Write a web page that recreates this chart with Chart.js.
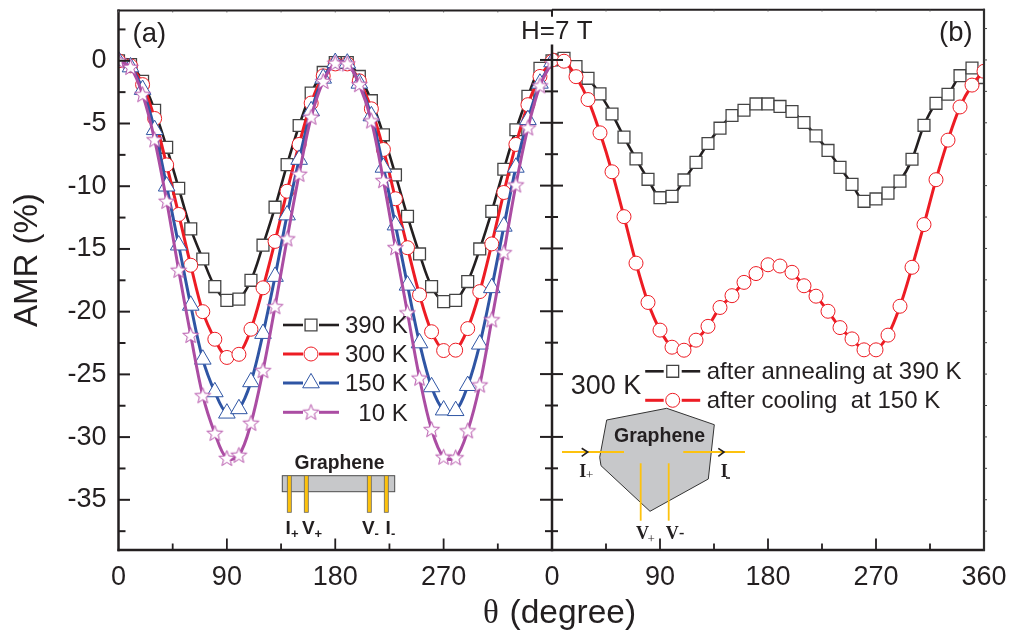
<!DOCTYPE html>
<html>
<head>
<meta charset="utf-8">
<style>
html,body{margin:0;padding:0;background:#fff;width:1009px;height:634px;overflow:hidden}
canvas{position:absolute;left:0;top:0}
</style>
<script src="https://cdn.jsdelivr.net/npm/chart.js@4/dist/chart.umd.js"></script>
</head>
<body>
<canvas id="panelA" width="1009" height="634"></canvas>
<canvas id="panelB" width="1009" height="634"></canvas>
<script>
const angles = [0,10,20,30,40,50,60,70,80,90,100,110,120,130,140,150,160,170,180,190,200,210,220,230,240,250,260,270,280,290,300,310,320,330,340,350,360];

const amr390 = [0,-0.3,-1.64,-3.95,-6.9,-10.16,-13.4,-15.8,-18.0,-19.1,-19.0,-17.5,-14.7,-11.67,-8.28,-5.16,-2.57,-0.93,-0.14,-0.14,-1.25,-3.18,-5.9,-9.1,-12.4,-15.4,-18.0,-19.2,-19.1,-17.6,-15.0,-12.0,-8.65,-5.5,-2.84,-0.6,0];
const amr300 = [0,-0.4,-1.9,-4.6,-8.3,-12.25,-16.3,-20.0,-22.2,-23.65,-23.4,-21.4,-18.1,-14.4,-10.4,-6.67,-3.37,-1.2,-0.25,-0.25,-1.6,-3.83,-7.07,-11.0,-14.9,-18.66,-21.6,-23.1,-23.07,-21.35,-18.4,-14.6,-10.5,-6.67,-3.5,-1.25,-0.05];
const amr150 = [0,-0.5,-2.3,-5.5,-10.0,-14.7,-19.5,-23.8,-26.4,-28.1,-27.75,-25.6,-21.75,-17.2,-12.3,-7.87,-4.0,-1.4,-0.15,-0.2,-1.8,-4.4,-8.5,-13.1,-17.9,-22.5,-26.0,-27.85,-27.9,-25.9,-22.6,-18.1,-13.2,-8.5,-4.7,-1.8,-0.1];
const amr10  = [0,-0.53,-2.7,-6.3,-11.2,-16.7,-21.9,-26.7,-29.7,-31.7,-31.45,-28.9,-24.7,-19.6,-14.2,-9.05,-4.5,-1.65,-0.2,-0.25,-1.9,-4.8,-9.55,-14.9,-20.1,-25.3,-29.4,-31.6,-31.65,-29.5,-25.85,-20.65,-15.3,-9.9,-5.35,-2.0,-0.1];

const annealed = [0,0.13,-0.53,-1.46,-2.7,-4.3,-6.14,-7.87,-9.5,-10.96,-10.85,-9.55,-8.15,-6.65,-5.43,-4.42,-4.0,-3.5,-3.5,-3.7,-4.1,-4.98,-6.04,-7.2,-8.55,-9.9,-11.25,-11.06,-10.6,-9.64,-7.9,-5.2,-3.45,-2.73,-1.25,-0.64,-1.4];
const cooled   = [0,-0.1,-1.33,-3.15,-5.8,-8.9,-12.47,-16.17,-19.3,-21.5,-22.86,-23.1,-22.3,-21.2,-19.7,-18.76,-17.7,-17.0,-16.3,-16.4,-16.9,-17.97,-18.8,-20.0,-21.3,-22.2,-23.07,-23.07,-21.9,-19.6,-16.5,-13.1,-9.53,-6.38,-3.74,-2.0,-0.9];

const xTickValues = [0,45,90,135,180,225,270,315,360];
const xLabelsA = {0:'0',90:'90',180:'180',270:'270'};
const xLabelsB = {0:'0',90:'90',180:'180',270:'270',360:'360'};
const yTickValues = [-37.5,-35,-32.5,-30,-27.5,-25,-22.5,-20,-17.5,-15,-12.5,-10,-7.5,-5,-2.5,0,2.5];

const seriesNamesA = ['390 K','300 K','150 K','  10 K'];
const seriesNamesB = ['after annealing at 390 K','after cooling  at 150 K'];

const INK='#231f20', BLACK='#231f20', RED='#ed1c24', BLUE='#2f55a4', PURPLE='#ab4da3', GOLD='#fdc20e', GREY='#c7c8ca';
const SANS='"Liberation Sans", Arial, sans-serif', SERIF='"Liberation Serif", "Times New Roman", serif';
const R_SQUARE=8.4, R_CIRCLE=7, R_TRIANGLE=9.6, R_STAR=8;

function starGlyph(){
  const c=document.createElement('canvas'); c.width=19; c.height=19;
  const g=c.getContext('2d'); g.beginPath();
  for(let i=0;i<10;i++){
    const r=i%2?3.5:8.3, a=-Math.PI/2+i*Math.PI/5;
    const px=9.5+r*Math.cos(a), py=9.9+r*Math.sin(a);
    i?g.lineTo(px,py):g.moveTo(px,py);
  }
  g.closePath(); g.fillStyle='#fff'; g.fill();
  g.strokeStyle='#b553aa'; g.lineWidth=1; g.lineJoin='miter'; g.stroke();
  return c;
}
const STAR=starGlyph();

function line(ctx,x1,y1,x2,y2,w,col){ctx.beginPath();ctx.moveTo(x1,y1);ctx.lineTo(x2,y2);ctx.lineWidth=w;ctx.strokeStyle=col;ctx.stroke();}
function text(ctx,s,x,y,font,col){ctx.font=font;ctx.fillStyle=col||INK;ctx.textAlign='left';ctx.textBaseline='alphabetic';ctx.fillText(s,x,y);}

function dataset(name,values,color,lw,style,radius,mcolor,mw,order){
  return {label:name,data:angles.map((a,i)=>({x:a,y:values[i]})),borderColor:color,borderWidth:lw,tension:0.35,fill:false,
    pointStyle:style,pointRadius:radius,pointBackgroundColor:'#fff',pointBorderColor:mcolor,pointBorderWidth:mw,order};
}
function legendEntry(ctx,cx,y,half,col,lw,style,radius,mcol,mw,gap){
  ctx.save();
  ctx.lineCap='butt';
  line(ctx,cx-half,y,cx-gap,y,lw,col); line(ctx,cx+gap,y,cx+half,y,lw,col);
  ctx.fillStyle='#fff'; ctx.strokeStyle=mcol; ctx.lineWidth=mw;
  Chart.helpers.drawPoint(ctx,{pointStyle:style,radius,borderWidth:mw,rotation:0},cx,y);
  ctx.restore();
}
function zeroPadding(s){s.paddingLeft=0;s.paddingRight=0;s.paddingTop=0;s.paddingBottom=0;}

function baseOptions(padding,yWidth,xLabels,showYLabels){
  return {
    responsive:false,animation:false,devicePixelRatio:1,
    layout:{padding},
    plugins:{legend:{display:false},tooltip:{enabled:false},title:{display:false}},
    scales:{
      x:{type:'linear',min:0,max:360,
        afterBuildTicks:s=>{s.ticks=xTickValues.map(v=>({value:v}));},
        afterFit:s=>{s.height=84;zeroPadding(s);},
        grid:{display:false,drawTicks:false},border:{display:false},
        ticks:{autoSkip:false,maxRotation:0,minRotation:0,padding:11,color:INK,font:{family:SANS,size:27},
          callback:v=>xLabels[v]||''}},
      y:{type:'linear',min:-39,max:4,
        afterBuildTicks:s=>{s.ticks=yTickValues.map(v=>({value:v}));},
        afterFit:s=>{s.width=yWidth;zeroPadding(s);},
        grid:{display:false,drawTicks:false},border:{display:false},
        ticks:{display:showYLabels,autoSkip:false,padding:12,color:INK,font:{family:SANS,size:27},
          callback:v=>v%5===0?String(v):''}}
    }
  };
}

const framePluginA={id:'frameA',afterDraw(c){
  const {ctx,chartArea:a,scales:{x,y}}=c; ctx.save();
  const l=a.left,r=a.right,t=a.top,b=a.bottom;
  line(ctx,l,t-1,l,b+1.2,2.5,BLACK); line(ctx,l-1,b,r,b,2.5,BLACK); line(ctx,l-1,t,r,t,2,BLACK);
  yTickValues.forEach(v=>{const p=y.getPixelForValue(v);line(ctx,l,p,l+(v%5===0?11.5:7),p,2,BLACK);});
  xTickValues.forEach(v=>{const p=x.getPixelForValue(v);
    if(v>0&&v<360) line(ctx,p,b,p,b-(v%90===0?11.5:6.5),1.8,BLACK);
    line(ctx,p,t,p,t+1.8,1,'#555');});
  // panel label and title
  text(ctx,'(a)',132.5,41.5,'27.5px '+SANS);
  ctx.save();ctx.translate(37,327);ctx.rotate(-Math.PI/2);text(ctx,'AMR (%)',0,0,'33px '+SANS);ctx.restore();
  // legend
  const ys=[325,354,383,412.3], st=[['rect',R_SQUARE,BLACK,2.6,'#444',1.3],['circle',R_CIRCLE,RED,3,RED,1],['triangle',R_TRIANGLE,BLUE,3,BLUE,1],[STAR,R_STAR,PURPLE,3,PURPLE,1]];
  seriesNamesA.forEach((n,i)=>{
    const s=st[i];
    legendEntry(ctx,311,ys[i],28,s[2],s[3],s[0],s[1],s[4],s[5],8);
    text(ctx,n,345,ys[i]+8.4,'24px '+SANS);
  });
  // device sketch
  text(ctx,'Graphene',294.5,468.5,'bold 19.3px '+SANS);
  ctx.fillStyle=GREY;ctx.fillRect(282.3,475.7,112.4,16);ctx.strokeStyle='#4d4d4d';ctx.lineWidth=1;ctx.strokeRect(282.3,475.7,112.4,16);
  [289.3,306.3,369.3,386.3].forEach(cx=>{ctx.fillStyle=GOLD;ctx.fillRect(cx-2,475.7,4,36.6);ctx.strokeStyle='#666';ctx.lineWidth=0.8;ctx.strokeRect(cx-2,475.7,4,36.6);});
  const bold='bold 19px '+SANS, sub='bold 13px '+SANS;
  text(ctx,'I',285.5,534,bold); text(ctx,'+',291,538,sub);
  text(ctx,'V',302,534,bold); text(ctx,'+',314.5,538,sub);
  text(ctx,'V',362,534,bold); text(ctx,'-',374.5,538,sub);
  text(ctx,'I',385.5,534,bold); text(ctx,'-',391,538,sub);
  ctx.restore();
}};

const framePluginB={id:'frameB',afterDraw(c){
  const {ctx,chartArea:a,scales:{x,y}}=c; ctx.save();
  const l=a.left,r=a.right,t=a.top,b=a.bottom;
  line(ctx,l,44.5,l,b+1.2,2.5,BLACK); line(ctx,l,t,l,t+7,2,BLACK);
  line(ctx,l,b,r+1,b,2.5,BLACK); line(ctx,l,t,r+1,t,2,BLACK); line(ctx,r,t-1,r,b+1,2.2,'#2e2e2e');
  yTickValues.forEach(v=>{const p=y.getPixelForValue(v);
    if(v<2){const maj=v%5===0;line(ctx,l-(maj?12:7),p,l+(maj?11:6),p,2,BLACK);}
    line(ctx,r,p,r+3,p,1,'#444');});
  xTickValues.forEach(v=>{const p=x.getPixelForValue(v);
    if(v>0&&v<360) line(ctx,p,b,p,b-(v%90===0?11.5:6.5),1.8,BLACK);
    if(v>0&&v<360) line(ctx,p,t,p,t+1.8,1,'#555');});
  text(ctx,'(b)',939,40.5,'27.5px '+SANS);
  text(ctx,'H=7 T',521,39,'26px '+SANS);
  // shared x title
  text(ctx,'θ',483,623,'33px '+SERIF);
  text(ctx,'(degree)',509.5,623,'33.5px '+SANS);
  // legend
  legendEntry(ctx,672.7,371.3,27.5,BLACK,2.6,'rect',R_SQUARE,'#444',1.3,9);
  legendEntry(ctx,672.7,400.3,27.5,RED,3,'circle',R_CIRCLE,RED,1,9);
  text(ctx,seriesNamesB[0],706.7,379.3,'24px '+SANS);
  text(ctx,seriesNamesB[1],706.7,408.3,'24px '+SANS);
  text(ctx,'300 K',570.7,394,'27px '+SANS);
  // device sketch
  const poly=[[606.7,420],[666.7,408.3],[714.3,424.7],[708.3,479],[650,511.3],[601,465.7],[599.7,457.3]];
  ctx.beginPath();poly.forEach((p,i)=>i?ctx.lineTo(p[0],p[1]):ctx.moveTo(p[0],p[1]));ctx.closePath();
  ctx.fillStyle=GREY;ctx.fill();ctx.strokeStyle='#333';ctx.lineWidth=1;ctx.stroke();
  text(ctx,'Graphene',614,441.7,'bold 19.5px '+SANS);
  line(ctx,562,452,624,452,1.8,GOLD); line(ctx,683.3,452,745,452,1.8,GOLD);
  line(ctx,640.7,463.3,640.7,520.7,1.8,GOLD); line(ctx,668.7,463.3,668.7,520.7,1.8,GOLD);
  ctx.lineJoin='miter';
  [[581.7,587.7],[718.3,724]].forEach(q=>{ctx.beginPath();ctx.moveTo(q[0],448.3);ctx.lineTo(q[1],452);ctx.lineTo(q[0],456.3);ctx.lineWidth=1.6;ctx.strokeStyle=BLACK;ctx.stroke();});
  const sb='bold 18px '+SERIF;
  text(ctx,'I',579.3,476.7,sb); text(ctx,'+',586,479,'13px '+SERIF);
  text(ctx,'I',720.7,476.7,sb); line(ctx,726,478,730,478,1.6,BLACK);
  text(ctx,'V',636,539,sb); text(ctx,'+',647.5,542.5,'13px '+SERIF);
  text(ctx,'V',665.7,539,sb); text(ctx,'-',679,538,'bold 16px '+SERIF);
  ctx.restore();
}};

new Chart(document.getElementById('panelA'),{type:'line',
  data:{datasets:[
    dataset(seriesNamesA[0],amr390,BLACK,2.6,'rect',R_SQUARE,'#444',1.3,4),
    dataset(seriesNamesA[1],amr300,RED,3,'circle',R_CIRCLE,RED,1,3),
    dataset(seriesNamesA[2],amr150,BLUE,3,'triangle',R_TRIANGLE,BLUE,1,2),
    dataset(seriesNamesA[3].trim(),amr10,PURPLE,3,STAR,R_STAR,PURPLE,1,1)
  ]},
  options:baseOptions({left:0,right:457,top:7.5,bottom:0},118.5,xLabelsA,true),
  plugins:[framePluginA]});

new Chart(document.getElementById('panelB'),{type:'line',
  data:{datasets:[
    dataset(seriesNamesB[0],annealed,BLACK,2.6,'rect',R_SQUARE,'#444',1.3,2),
    dataset(seriesNamesB[1],cooled,RED,3,'circle',R_CIRCLE,RED,1,1)
  ]},
  options:baseOptions({left:552,right:25,top:7.5,bottom:0},0,xLabelsB,false),
  plugins:[framePluginB]});
</script>
</body>
</html>
